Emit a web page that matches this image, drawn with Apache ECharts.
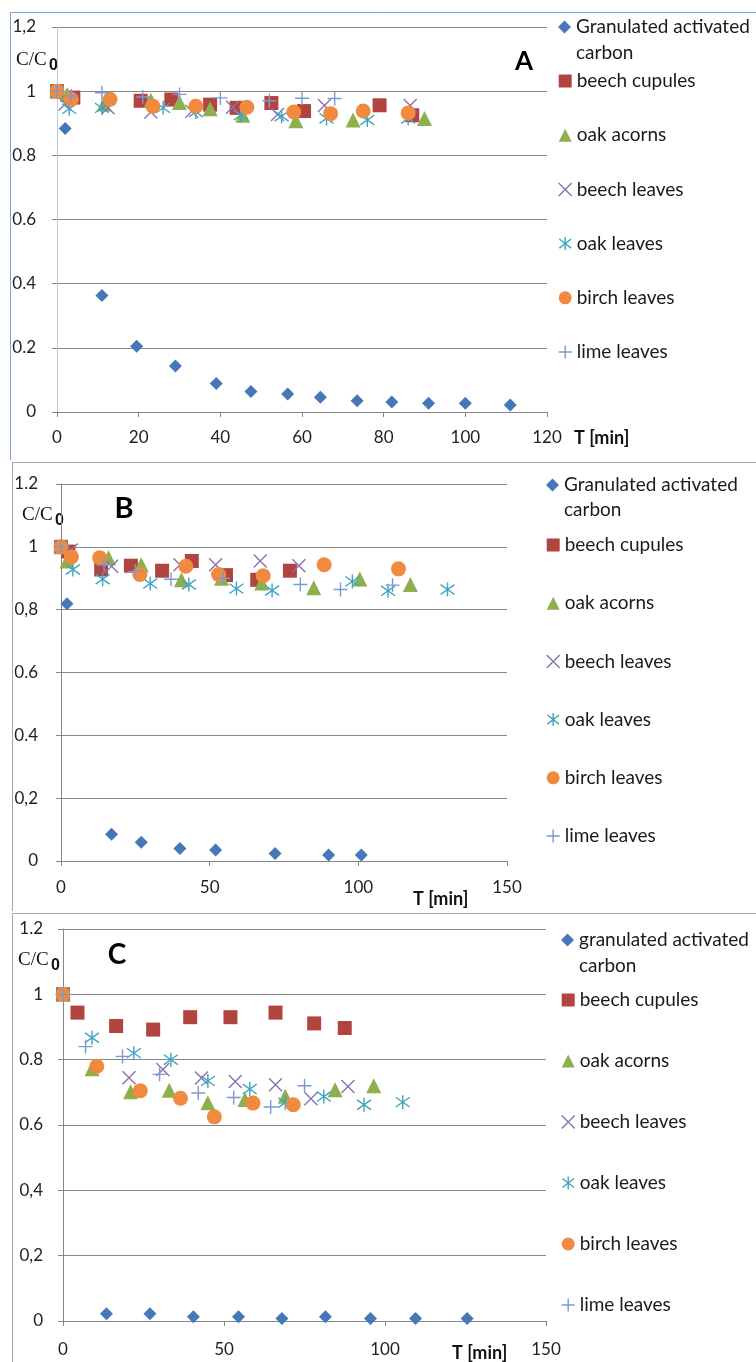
<!DOCTYPE html>
<html>
<head>
<meta charset="utf-8">
<script src="https://cdn.jsdelivr.net/npm/echarts@6/dist/echarts.min.js"></script>
<style>html,body{margin:0;padding:0;background:#fff}#chart{width:756px;height:1362px}</style>
</head>
<body>
<div id="chart"></div>
<script>
// ---------- names & tick labels ----------
const namesAB = ['Granulated activated\ncarbon','beech cupules','oak acorns','beech leaves','oak leaves','birch leaves','lime leaves'];
const namesC  = ['granulated activated\ncarbon','beech cupules','oak acorns','beech leaves','oak leaves','birch leaves','lime leaves'];
const xTicksA  = [0,20,40,60,80,100,120];
const xTicksBC = [0,50,100,150];
const yTicksA = ['0','0.2','0.4','0.6','0.8','1','1,2'];
const yTicksB = ['0','0,2','0.4','0.6','0,8','1','1.2'];
const yTicksC = ['0','0,2','0,4','0.6','0.8','1','1.2'];

// ---------- panel A data [T min, C/C0] ----------
const A_gac = [[0,1],[2,0.884],[11,0.363],[19.5,0.205],[29,0.143],[39,0.089],[47.5,0.064],[56.5,0.056],[64.5,0.046],[73.5,0.035],[82,0.031],[91,0.027],[100,0.027],[111,0.022]];
const A_cupules = [[0,1],[4,0.98],[20.5,0.97],[28,0.974],[37.5,0.958],[44,0.948],[52.5,0.963],[60.5,0.938],[79,0.956],[87,0.925]];
const A_acorns = [[0,1],[2.5,0.99],[11.5,0.96],[23,0.972],[30,0.965],[37.5,0.945],[45.5,0.925],[58.5,0.908],[72.5,0.91],[90,0.915]];
const A_beechLeaves = [[0,1],[2,0.96],[12.5,0.948],[23,0.935],[33,0.937],[43,0.95],[54,0.927],[65.5,0.955],[86.5,0.955]];
const A_oakLeaves = [[0,1],[3,0.945],[11,0.948],[26,0.948],[34,0.935],[45,0.925],[55,0.922],[66,0.915],[76,0.91],[86,0.915]];
const A_birch = [[0,1],[3.5,0.975],[13,0.975],[23.5,0.953],[34,0.953],[46.5,0.95],[58,0.935],[67,0.93],[75,0.938],[86,0.932]];
const A_lime = [[0,1],[3.5,0.985],[11,0.995],[21,0.982],[30,0.99],[40,0.979],[52,0.97],[60,0.978],[68,0.977]];

// ---------- panel B data ----------
const B_gac = [[0,1],[2,0.819],[17,0.085],[27,0.06],[40,0.04],[52,0.035],[72,0.024],[90,0.019],[101,0.019]];
const B_cupules = [[0,1],[2.5,0.985],[13.5,0.928],[23.5,0.94],[34,0.924],[44,0.955],[55.5,0.91],[66,0.895],[77,0.924]];
const B_acorns = [[0,1],[2,0.955],[16,0.965],[27,0.943],[40.5,0.895],[54,0.9],[67.5,0.885],[85,0.87],[100.5,0.898],[117.5,0.88]];
const B_beechLeaves = [[0,1],[3.5,0.99],[17,0.938],[40,0.943],[52,0.943],[67,0.955],[80,0.94]];
const B_oakLeaves = [[0,1],[4,0.928],[14,0.897],[30,0.883],[43,0.88],[59,0.867],[71,0.861],[98,0.89],[110,0.86],[130,0.864]];
const B_birch = [[0,1],[3.5,0.968],[13,0.965],[26.5,0.912],[42,0.938],[53,0.912],[68,0.908],[88.5,0.943],[113.5,0.93]];
const B_lime = [[0,1],[14.5,0.943],[25,0.922],[37,0.897],[54.5,0.9],[80.5,0.88],[94,0.864],[111.5,0.878]];

// ---------- panel C data ----------
const C_gac = [[0,1],[13.5,0.022],[27,0.022],[40.5,0.013],[54.5,0.013],[68,0.008],[81.5,0.013],[95.5,0.008],[109.5,0.008],[125.5,0.008]];
const C_cupules = [[0,1],[4.5,0.944],[16.5,0.903],[28,0.892],[39.5,0.93],[52,0.93],[66,0.944],[78,0.911],[87.5,0.897]];
const C_acorns = [[0,1],[9,0.772],[21,0.702],[33,0.706],[45,0.668],[56.5,0.678],[69,0.688],[84.5,0.708],[96.5,0.72]];
const C_beechLeaves = [[0,1],[20.5,0.745],[31,0.77],[43,0.744],[53.5,0.733],[66,0.723],[77,0.68],[88.5,0.718]];
const C_oakLeaves = [[0,1],[9,0.867],[22,0.82],[33.5,0.8],[45,0.735],[58,0.71],[69,0.668],[81,0.687],[93.5,0.662],[105.5,0.67]];
const C_birch = [[0,1],[10.5,0.78],[24,0.705],[36.5,0.682],[47,0.625],[59,0.667],[71.5,0.662]];
const C_lime = [[0,1],[7,0.84],[18.5,0.81],[30,0.755],[42,0.698],[53,0.684],[64.5,0.655],[75,0.72]];

// ---------- styles ----------
const FONT = 'Lato';
const markers = [
  {symbol:'diamond', size:13, fill:'#4677b8'},
  {symbol:'rect', size:14, fill:'#b2443f'},
  {symbol:'triangle', size:15, fill:'#8db04c'},
  {symbol:'path://M0,0L10,10M10,0L0,10', size:13, stroke:'#8a72b0'},
  {symbol:'path://M5,0L5,10M0.5,1.5L9.5,8.5M0.5,8.5L9.5,1.5', size:14, stroke:'#3fa5c2'},
  {symbol:'circle', size:15, fill:'#ef8a3e'},
  {symbol:'path://M5,0L5,10M0,5L10,5', size:14, stroke:'#7d98d2'}
];
function itemStyleOf(m){
  return m.fill ? {color:m.fill, opacity:1, borderWidth:0}
                : {color:'rgba(0,0,0,0)', borderColor:m.stroke, borderWidth:1.4, opacity:1};
}

const panels = [
  {series:[A_gac,A_cupules,A_acorns,A_beechLeaves,A_oakLeaves,A_birch,A_lime], names:namesAB, yTicks:yTicksA, xTicks:xTicksA,
   grid:{left:57,top:27,width:490,height:385}, yMargin:21, xMargin:17.5, yAxisColor:'#b7cbe8',
   leg:{left:558, first:27, lineGap:26, rest:81, spacing:54.2}},
  {series:[B_gac,B_cupules,B_acorns,B_beechLeaves,B_oakLeaves,B_birch,B_lime], names:namesAB, yTicks:yTicksB, xTicks:xTicksBC,
   grid:{left:61,top:484,width:446,height:377}, yMargin:23, xMargin:18.5, yAxisColor:'#868686',
   leg:{left:546, first:485, lineGap:25, rest:545, spacing:58.2}},
  {series:[C_gac,C_cupules,C_acorns,C_beechLeaves,C_oakLeaves,C_birch,C_lime], names:namesC, yTicks:yTicksC, xTicks:xTicksBC,
   grid:{left:63,top:929,width:483,height:392}, yMargin:20, xMargin:20.5, yAxisColor:'#868686',
   leg:{left:561, first:940, lineGap:26, rest:1000, spacing:61}}
];

const grids=[], xAxes=[], yAxes=[], series=[], legends=[];
panels.forEach((p,i)=>{
  grids.push(Object.assign({outerBoundsMode:'none', containLabel:false, show:false}, p.grid));
  xAxes.push({type:'value', gridIndex:i, min:p.xTicks[0], max:p.xTicks[p.xTicks.length-1], interval:p.xTicks[1]-p.xTicks[0],
    axisLine:{show:true, onZero:false, lineStyle:{color:'#868686', width:1}},
    axisTick:{show:true, length:5, lineStyle:{color:'#868686'}},
    axisLabel:{margin:p.xMargin, fontFamily:FONT, fontSize:17, lineHeight:17, color:'#222'},
    splitLine:{show:false}});
  yAxes.push({type:'value', gridIndex:i, min:0, max:1.2, interval:0.2,
    axisLine:{show:true, onZero:false, lineStyle:{color:p.yAxisColor, width:1}},
    axisTick:{show:true, length:5, lineStyle:{color:'#868686'}},
    axisLabel:{margin:p.yMargin, fontFamily:FONT, fontSize:17, color:'#222',
      formatter:(v)=>p.yTicks[Math.round(v/0.2)]},
    splitLine:{show:true, lineStyle:{color:'#878787', width:1}}});
  p.series.forEach((d,k)=>{
    const m = markers[k];
    series.push({type:'scatter', name:p.names[k], xAxisIndex:i, yAxisIndex:i, data:d,
      symbol:m.symbol, symbolSize:m.size, itemStyle:itemStyleOf(m), clip:false, z:2+k,
      emphasis:{disabled:true}});
  });
  const legItem = (k)=>({name:p.names[k], icon:markers[k].symbol, itemStyle:itemStyleOf(markers[k])});
  const L = p.leg;
  // empty leading line keeps the icon level with the first text line
  legends.push({orient:'vertical', left:L.left, top:L.first-1.5*L.lineGap, padding:0, itemWidth:13, itemHeight:13,
    selectedMode:false, data:[legItem(0)], formatter:(n)=>'\n'+n,
    textStyle:{fontFamily:FONT, fontSize:19, color:'#1a1a1a', lineHeight:L.lineGap}});
  legends.push({orient:'vertical', left:L.left, top:L.rest-10, padding:0, itemWidth:13, itemHeight:13,
    itemGap:L.spacing-20, selectedMode:false, data:[1,2,3,4,5,6].map(legItem),
    textStyle:{fontFamily:FONT, fontSize:19, color:'#1a1a1a', lineHeight:20}});
});

// decorative texts & frames
const frames = [
  {pts:[[10.5,460],[10.5,12.5],[770,12.5]], color:'#7ea3da'},
  {pts:[[12.5,911],[12.5,462.5],[770,462.5]], color:'#a6a6a6'},
  {pts:[[12.5,1370],[12.5,913.5],[770,913.5]], color:'#a6a6a6'}
];
const panelLetters = [{t:'A', x:524, y:62, s:26},{t:'B', x:124, y:509, s:29},{t:'C', x:117, y:955, s:28}];
const ccLabels = [{x:16, y:60},{x:22, y:515},{x:18, y:960}];
const tLabels = [{x:574, y:438},{x:413, y:899},{x:452, y:1353}];

const graphic = [];
frames.forEach(f=>graphic.push({type:'polyline', shape:{points:f.pts}, style:{stroke:f.color, lineWidth:1, fill:null}, silent:true}));
panelLetters.forEach(l=>graphic.push({type:'text', x:l.x, y:l.y, style:{text:l.t, font:'bold '+l.s+'px '+FONT, fill:'#000', align:'center', verticalAlign:'middle'}}));
ccLabels.forEach(c=>{
  graphic.push({type:'text', x:c.x, y:c.y, style:{text:'C/C', font:'19px "Liberation Serif"', fill:'#111', align:'left', verticalAlign:'middle'}});
  graphic.push({type:'text', x:c.x+33, y:c.y+6, style:{text:'0', font:'bold 16px "Liberation Sans"', fill:'#111', align:'left', verticalAlign:'middle'}});
});
tLabels.forEach(t=>graphic.push({type:'text', x:t.x, y:t.y, style:{text:'T [min]', font:'bold 18px '+FONT, fill:'#111', align:'left', verticalAlign:'middle'}}));

const chart = echarts.init(document.getElementById('chart'), null, {renderer:'canvas'});
chart.setOption({
  animation:false,
  backgroundColor:'#ffffff',
  grid:grids, xAxis:xAxes, yAxis:yAxes, series:series, legend:legends, graphic:graphic
});
</script>
</body>
</html>
